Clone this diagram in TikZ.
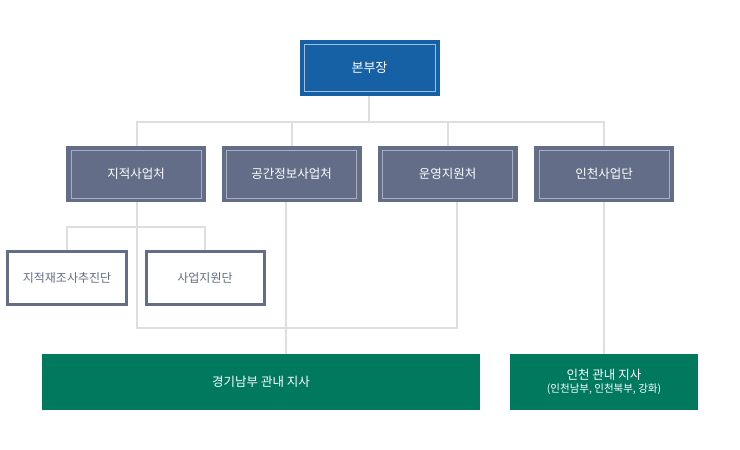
\documentclass[tikz,border=0pt]{standalone}
\usepackage{fontspec}
\setmainfont{Noto Sans CJK KR}
\begin{document}
\begin{tikzpicture}[x=1pt,y=-1pt,
  line/.style={draw=black!13,line width=2pt},
  top/.style={fill=blue1,draw=blue1,text=white,font=\fontsize{13}{15}\selectfont,inner sep=0pt},
  mid/.style={fill=gray1,text=white,font=\fontsize{12.5}{15}\selectfont,inner sep=0pt},
  sub/.style={fill=white,draw=gray1,line width=3pt,text=gray1,font=\fontsize{12}{15}\selectfont,inner sep=0pt},
  grn/.style={fill=green1,text=white,font=\fontsize{12.5}{15}\selectfont,inner sep=0pt,align=center}]
\definecolor{blue1}{HTML}{1660A6}
\definecolor{gray1}{HTML}{636D87}
\definecolor{green1}{HTML}{00795F}
\useasboundingbox (0,0) rectangle (740,450);
% connectors
\coordinate (t) at (369,122);
\draw[line] (369,95) -- (t);
\draw[line] (137,146) -- (137,122) -- (604,122) -- (604,146);
\draw[line] (292,122) -- (292,146);
\draw[line] (448,122) -- (448,146);
\draw[line] (67,250) -- (67,227) -- (205,227) -- (205,250);
\draw[line] (137,202) -- (137,328) -- (457,328) -- (457,202);
\draw[line] (286,202) -- (286,354);
\draw[line] (604,202) -- (604,354);
% nodes
\node[top,minimum width=139pt,minimum height=55pt] (hq) at (369.5,67.5) {본부장};
\draw[white!60!blue1,line width=0.8pt] (304,44) rectangle (435,91);
\foreach \n/\cx/\t in {a/136/지적사업처,b/291.5/공간정보사업처,c/447.5/운영지원처,d/604/인천사업단}{
  \node[mid,minimum width=140pt,minimum height=56pt] (\n) at (\cx,174) {\t};
  \draw[white!45!gray1,line width=0.8pt] (\cx-65,150) rectangle (\cx+65,198);
}
\node[sub,minimum width=119pt,minimum height=53pt] (s1) at (67,278) {지적재조사추진단};
\node[sub,minimum width=118pt,minimum height=53pt] (s2) at (205,278) {사업지원단};
\node[grn,minimum width=438pt,minimum height=56pt] (g1) at (261,382) {경기남부 관내 지사};
\node[grn,minimum width=188pt,minimum height=56pt] (g2) at (604,382) {인천 관내 지사\\[-2pt]{\fontsize{10.5}{12}\selectfont (인천남부, 인천북부, 강화)}};
\end{tikzpicture}
\end{document}
